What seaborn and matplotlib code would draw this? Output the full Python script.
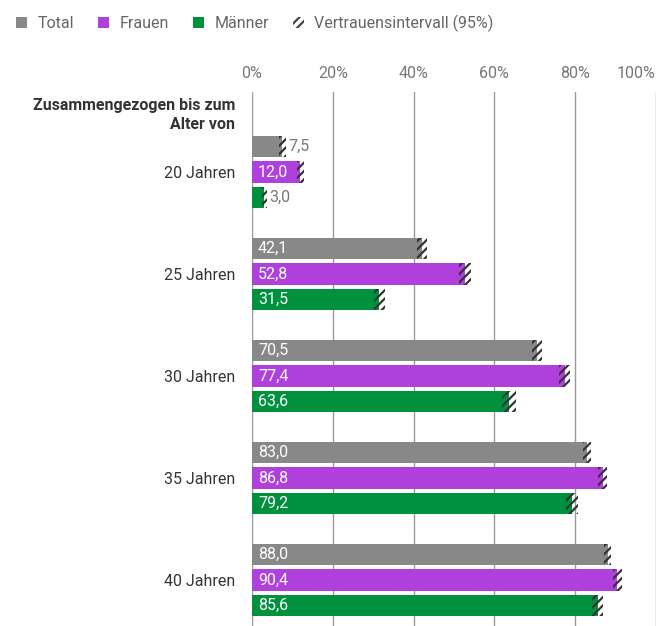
import matplotlib
matplotlib.use("Agg")
import matplotlib.pyplot as plt
from matplotlib.patches import Patch
import seaborn as sns
import pandas as pd

ages = ["20 Jahren", "25 Jahren", "30 Jahren", "35 Jahren", "40 Jahren"]
series = ["Total", "Frauen", "Männer"]
total = [7.5, 42.1, 70.5, 83.0, 88.0]
frauen = [12.0, 52.8, 77.4, 86.8, 90.4]
maenner = [3.0, 31.5, 63.6, 79.2, 85.6]
ci_total = [0.8, 1.3, 1.2, 1.0, 0.9]
ci_frauen = [0.9, 1.5, 1.4, 1.1, 1.1]
ci_maenner = [0.6, 1.4, 1.7, 1.4, 1.4]
xticks = [0, 20, 40, 60, 80, 100]
xticklabels = ["0%", "20%", "40%", "60%", "80%", "100%"]
header = "Zusammengezogen bis zum\nAlter von"
ci_label = "Vertrauensintervall (95%)"
colors = ["#888888", "#B040DC", "#00913F"]

FS = 11.5

sns.set_style("white")
plt.rcParams["font.family"] = ["Roboto", "DejaVu Sans"]
plt.rcParams["hatch.linewidth"] = 1.6

rows = []
for s, vals, cis in zip(series, [total, frauen, maenner], [ci_total, ci_frauen, ci_maenner]):
    for a, v, c in zip(ages, vals, cis):
        rows.append({"age": a, "series": s, "value": v, "ci": c})
df = pd.DataFrame(rows)

fig = plt.figure(figsize=(6.72, 6.26), dpi=100)
ax = fig.add_axes([252 / 672, 0.0, (656 - 252) / 672, 1 - 92 / 626])

sns.barplot(data=df, x="value", y="age", hue="series", order=ages, hue_order=series,
            palette=colors, orient="h", width=0.75, gap=0.14, dodge=True,
            saturation=1, legend=False, ax=ax, zorder=3, linewidth=0)

for cont, s in zip(ax.containers, series):
    sub = df[df.series == s].set_index("age").loc[ages]
    for bar, v, c in zip(cont, sub["value"], sub["ci"]):
        y = bar.get_y()
        h = bar.get_height()
        ax.barh(y + h / 2, 2 * c, left=v - c, height=h, facecolor="none",
                edgecolor="#333333", hatch="////", linewidth=0, zorder=4)
        lbl = f"{v:.1f}".replace(".", ",")
        if v >= 10:
            ax.text(1.5, y + h / 2, lbl, color="white", fontsize=FS,
                    va="center", ha="left", zorder=5)
        else:
            ax.text(v + c + 0.6, y + h / 2, lbl, color="#777777", fontsize=FS,
                    va="center", ha="left", zorder=5)

ax.set_xlim(0, 100)
ax.set_ylim(4 + 46 / 102, -80 / 102)
ax.set_xticks(xticks)
ax.set_xticklabels(xticklabels)
ax.xaxis.tick_top()
ax.tick_params(axis="x", length=0, pad=8, labelsize=FS, labelcolor="#777777")
ax.tick_params(axis="y", length=0, pad=12, labelsize=FS, labelcolor="#333333")
ax.get_xticklabels()[-1].set_horizontalalignment("right")
ax.set_xlabel("")
ax.set_ylabel("")
ax.grid(axis="x", color="#999999", linewidth=1, zorder=0)
ax.grid(axis="y", visible=False)
ax.set_axisbelow(True)
for sp in ax.spines.values():
    sp.set_visible(False)

ax.annotate(header, xy=(0, -0.56), xycoords=("axes fraction", "data"),
            xytext=(-12, 0), textcoords="offset points", ha="right", va="center",
            fontsize=FS, fontweight="bold", color="#333333", linespacing=1.3)

handles = [Patch(facecolor=c, edgecolor="none") for c in colors]
handles.append(Patch(facecolor="white", edgecolor="#444444", hatch="////", linewidth=0))
fig.legend(handles, series + [ci_label], loc="upper left", bbox_to_anchor=(0.002, 1.0),
           ncol=4, frameon=False, fontsize=FS, labelcolor="#666666",
           handlelength=0.7, handleheight=0.7, handletextpad=0.65, columnspacing=1.5)

fig.savefig("out.png", dpi=100)
